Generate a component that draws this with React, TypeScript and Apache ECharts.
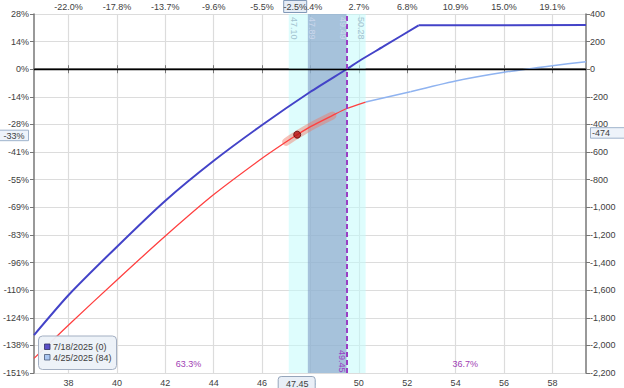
import React, { useEffect, useRef } from "react";
import * as echarts from "echarts";

// ---- axis ticks / labels ----
const xTicks = [38, 40, 42, 44, 46, 48, 50, 52, 54, 56, 58];
const topPctLabels = ["-22.0%", "-17.8%", "-13.7%", "-9.6%", "-5.5%", "-1.4%", "2.7%", "6.8%", "10.9%", "15.0%", "19.1%"];
const yTicks = [-2200, -2000, -1800, -1600, -1400, -1200, -1000, -800, -600, -400, -200, 0, 200, 400];
const leftPctLabels = ["-151%", "-138%", "-124%", "-110%", "-96%", "-83%", "-69%", "-55%", "-41%", "-28%", "-14%", "0%", "14%", "28%"];
const rightDollarLabels = ["-2,200", "-2,000", "-1,800", "-1,600", "-1,400", "-1,200", "-1,000", "-800", "-600", "-400", "-200", "0", "200", "400"];
const xMin = 36.57;
const xMax = 59.39;

// ---- series values ----
// 7/18/2025 (0) expiration line: curved part, then flat cap
const expiryX = [36.57, 38, 40, 42, 44, 46, 48, 49.49, 50.06, 51, 52.47];
const expiryY = [-1925, -1635, -1285, -952, -663, -404, -163, 0, 65, 163, 318];
const expiryCapX = [52.47, 59.39];
const expiryCapY = [318, 320];
// 4/25/2025 (84) line, red part (inside / left)
const t0RedX = [36.57, 38, 40, 42, 44, 46, 47.0, 47.45, 48, 48.9, 49.45, 50.28];
const t0RedY = [-2094, -1852, -1526, -1208, -908, -645, -525, -474, -416, -336, -288, -238];
// 4/25/2025 (84) line, light blue part (right)
const t0BlueX = [50.28, 52.13];
const t0BlueY = [-238, -163];
const t0BlueFarX = [52.13, 54, 56, 58, 59.39];
const t0BlueFarY = [-163, -85, -22, 26, 55];
// highlighted segment around current price
const highlightX = [47.0, 47.45, 48, 48.9];
const highlightY = [-525, -474, -416, -336];

// ---- bands / markers ----
const outerBand = [47.1, 50.28];
const innerBand = [47.89, 49.49];
const breakeven = 49.49;
const breakevenBottom = "49.45";
const currentPrice = 47.45;
const currentPL = -474;
const currentPLText = "-474";
const currentPctText = "-33%";
const currentMoveText = "-2.5%";
const probLeft = "63.3%";
const probRight = "36.7%";
const legendLabels = ["7/18/2025 (0)", "4/25/2025 (84)"];

const FONT = "Liberation Sans";
const TXT = "#404040";

const zip = (xs: number[], ys: number[]) => xs.map((x, i) => [x, ys[i]]);

export default function App() {
  const ref = useRef<HTMLDivElement>(null);

  useEffect(() => {
    if (!ref.current) return;
    const chart = echarts.init(ref.current, undefined, { renderer: "svg" });

    const labelStyle = { fontFamily: FONT, fontSize: 9, color: TXT };
    const axisLine = { show: true, lineStyle: { color: "#777777", width: 1.5 } };
    const axisTick = { show: true, length: 4, lineStyle: { color: "#777777", width: 1 } };

    const lineSeries = (name: string, data: number[][], color: string, width: number, smooth: number | boolean, z = 4) => ({
      name,
      type: "line",
      z,
      data,
      smooth,
      symbol: "none",
      showSymbol: false,
      lineStyle: { color, width },
    });

    const option: any = {
      animation: false,
      backgroundColor: "#ffffff",
      grid: { left: 33, right: 38, top: 14, bottom: 15, containLabel: false },
      xAxis: [
        {
          type: "value",
          min: xMin,
          max: xMax,
          position: "bottom",
          axisLine,
          axisTick: { ...axisTick, customValues: xTicks },
          axisLabel: {
            ...labelStyle,
            margin: 5,
            customValues: xTicks,
            formatter: (v: number) => String(v),
          },
          splitLine: { show: true, lineStyle: { color: "#dcdcdc", width: 1.2 } },
        },
        {
          type: "value",
          min: xMin,
          max: xMax,
          position: "top",
          axisLine,
          axisTick: { ...axisTick, customValues: xTicks },
          axisLabel: {
            ...labelStyle,
            margin: 3,
            customValues: xTicks,
            formatter: (v: number) => {
              const i = xTicks.findIndex((t) => Math.abs(t - v) < 1e-6);
              return i >= 0 ? topPctLabels[i] : "";
            },
          },
          splitLine: { show: false },
        },
      ],
      yAxis: [
        {
          type: "value",
          min: -2200,
          max: 400,
          interval: 200,
          position: "left",
          axisLine,
          axisTick,
          axisLabel: {
            ...labelStyle,
            margin: 5,
            formatter: (v: number) => {
              const i = yTicks.indexOf(Math.round(v));
              return i >= 0 ? leftPctLabels[i] : "";
            },
          },
          splitLine: { show: true, lineStyle: { color: "#dcdcdc", width: 1.2 } },
        },
        {
          type: "value",
          min: -2200,
          max: 400,
          interval: 200,
          position: "right",
          axisLine,
          axisTick,
          axisLabel: {
            ...labelStyle,
            margin: 4,
            formatter: (v: number) => {
              const i = yTicks.indexOf(Math.round(v));
              return i >= 0 ? rightDollarLabels[i] : "";
            },
          },
          splitLine: { show: false },
        },
      ],
      series: [
        {
          name: "bands",
          type: "line",
          data: [],
          z: 1,
          silent: true,
          markArea: {
            silent: true,
            data: [
              [{ xAxis: outerBand[0], itemStyle: { color: "rgba(195,252,252,0.55)" } }, { xAxis: outerBand[1] }],
              [{ xAxis: innerBand[0], itemStyle: { color: "rgba(120,145,192,0.55)" } }, { xAxis: innerBand[1] }],
            ],
          },
        },
        {
          name: "refs",
          type: "line",
          data: [],
          z: 2,
          silent: true,
          markLine: {
            silent: true,
            symbol: ["none", "none"],
            label: { show: false },
            data: [
              { yAxis: 0, lineStyle: { color: "#000000", width: 1.3, type: "solid" } },
              { xAxis: breakeven, lineStyle: { color: "#9a3fc4", width: 2, type: [5, 3] } },
            ],
          },
        },
        lineSeries("7/18/2025 (0)", zip(expiryX, expiryY), "#4343c8", 2, 0.2),
        lineSeries("7/18/2025 (0) cap", zip(expiryCapX, expiryCapY), "#4343c8", 2, false),
        {
          name: "4/25/2025 (84) highlight",
          type: "line",
          z: 3,
          data: zip(highlightX, highlightY),
          smooth: 0.3,
          symbol: "none",
          lineStyle: { color: "rgba(240,120,100,0.45)", width: 8, cap: "round" },
        },
        lineSeries("4/25/2025 (84)", zip(t0RedX, t0RedY), "#ff4040", 1.3, 0.25),
        lineSeries("4/25/2025 (84) out", zip(t0BlueX, t0BlueY), "#8fb3f0", 1.5, false),
        lineSeries("4/25/2025 (84) far", zip(t0BlueFarX, t0BlueFarY), "#8fb3f0", 1.5, 0.25),
        {
          name: "current",
          type: "scatter",
          z: 5,
          data: [[currentPrice, currentPL]],
          symbol: "circle",
          symbolSize: 7,
          itemStyle: { color: "#b31212", borderColor: "#5a0000", borderWidth: 1 },
        },
      ],
    };

    chart.setOption(option);

    const px = (v: number) => chart.convertToPixel({ xAxisIndex: 0 }, v) as number;
    const py = (v: number) => chart.convertToPixel({ yAxisIndex: 0 }, v) as number;

    const cx = px(currentPrice);
    const cy = py(currentPL);
    const top = py(400);
    const bottom = py(-2200);
    const left = px(xMin);
    const right = px(xMax);

    const vText = (x: number, y: number, text: string, color: string) => ({
      type: "text",
      x,
      y,
      rotation: -Math.PI / 2,
      z: 50,
      silent: true,
      style: { text, fill: color, font: `9px "${FONT}"`, align: "left", verticalAlign: "middle" },
    });

    const boxFont = `9px "${FONT}"`;
    const graphic: any[] = [
      vText(px(outerBand[0]) + 5, top + 3, outerBand[0].toFixed(2), "#a3c3d0"),
      vText(px(innerBand[0]) + 4, top + 3, innerBand[0].toFixed(2), "#cbd7ec"),
      vText(px(innerBand[1]) - 4, top + 3, innerBand[1].toFixed(2), "#cbd7ec"),
      vText(px(outerBand[1]) - 4.5, top + 3, outerBand[1].toFixed(2), "#a3c3d0"),
      vText(px(breakeven) - 5, bottom - 23, breakevenBottom, "#9a3fc4"),
      {
        type: "text",
        x: px(42.96),
        y: bottom - 9.5,
        z: 50,
        style: { text: probLeft, fill: "#a040b4", font: boxFont, align: "center", verticalAlign: "middle" },
      },
      {
        type: "text",
        x: px(54.4),
        y: bottom - 9.5,
        z: 50,
        style: { text: probRight, fill: "#a040b4", font: boxFont, align: "center", verticalAlign: "middle" },
      },
      // top move box
      {
        type: "rect",
        z: 60,
        shape: { x: cx - 13.5, y: 0.5, width: 23, height: 12 },
        style: { fill: "#e6edf6", stroke: "#8199b8", lineWidth: 1 },
      },
      {
        type: "text",
        z: 61,
        x: cx - 2,
        y: 7,
        style: { text: currentMoveText, fill: TXT, font: boxFont, align: "center", verticalAlign: "middle" },
      },
      // bottom price box
      {
        type: "rect",
        z: 60,
        shape: { x: cx - 19, y: bottom + 3.5, width: 37, height: 15, r: 3 },
        style: { fill: "#e9eff7", stroke: "#95a5bb", lineWidth: 1 },
      },
      {
        type: "text",
        z: 61,
        x: cx,
        y: bottom + 10.5,
        style: { text: currentPrice.toFixed(2), fill: TXT, font: boxFont, align: "center", verticalAlign: "middle" },
      },
      // left pct box
      {
        type: "rect",
        z: 60,
        shape: { x: -1, y: cy - 4.5, width: 29.5, height: 10.5 },
        style: { fill: "#eef3fa", stroke: "#9fb3cc", lineWidth: 1 },
      },
      {
        type: "text",
        z: 61,
        x: 14,
        y: cy + 1,
        style: { text: currentPctText, fill: TXT, font: boxFont, align: "center", verticalAlign: "middle" },
      },
      // right $ box
      {
        type: "rect",
        z: 60,
        shape: { x: right + 4.5, y: cy - 7, width: 40, height: 10.5 },
        style: { fill: "#eef3fa", stroke: "#9fb3cc", lineWidth: 1 },
      },
      {
        type: "text",
        z: 61,
        x: right + 6,
        y: cy - 1.5,
        style: { text: currentPLText, fill: TXT, font: boxFont, align: "left", verticalAlign: "middle" },
      },
      // legend
      {
        type: "rect",
        z: 60,
        shape: { x: left + 4.5, y: bottom - 37, width: 78, height: 33.5, r: 4 },
        style: { fill: "rgba(236,241,248,0.95)", stroke: "#a3afc2", lineWidth: 1 },
      },
      {
        type: "rect",
        z: 61,
        shape: { x: left + 10.5, y: bottom - 29, width: 5.5, height: 5.5 },
        style: { fill: "#5a50c8", stroke: "#303060", lineWidth: 0.8 },
      },
      {
        type: "text",
        z: 61,
        x: left + 19,
        y: bottom - 25.8,
        style: { text: legendLabels[0], fill: TXT, font: boxFont, align: "left", verticalAlign: "middle" },
      },
      {
        type: "rect",
        z: 61,
        shape: { x: left + 10.5, y: bottom - 18.5, width: 5.5, height: 5.5 },
        style: { fill: "#a9c6f2", stroke: "#4a5a78", lineWidth: 0.8 },
      },
      {
        type: "text",
        z: 61,
        x: left + 19,
        y: bottom - 15.3,
        style: { text: legendLabels[1], fill: TXT, font: boxFont, align: "left", verticalAlign: "middle" },
      },
    ];

    chart.setOption({ graphic });

    return () => chart.dispose();
  }, []);

  return (
    <div
      ref={ref}
      style={{ position: "fixed", left: 0, top: 0, width: 624, height: 388, background: "#fff" }}
    />
  );
}
